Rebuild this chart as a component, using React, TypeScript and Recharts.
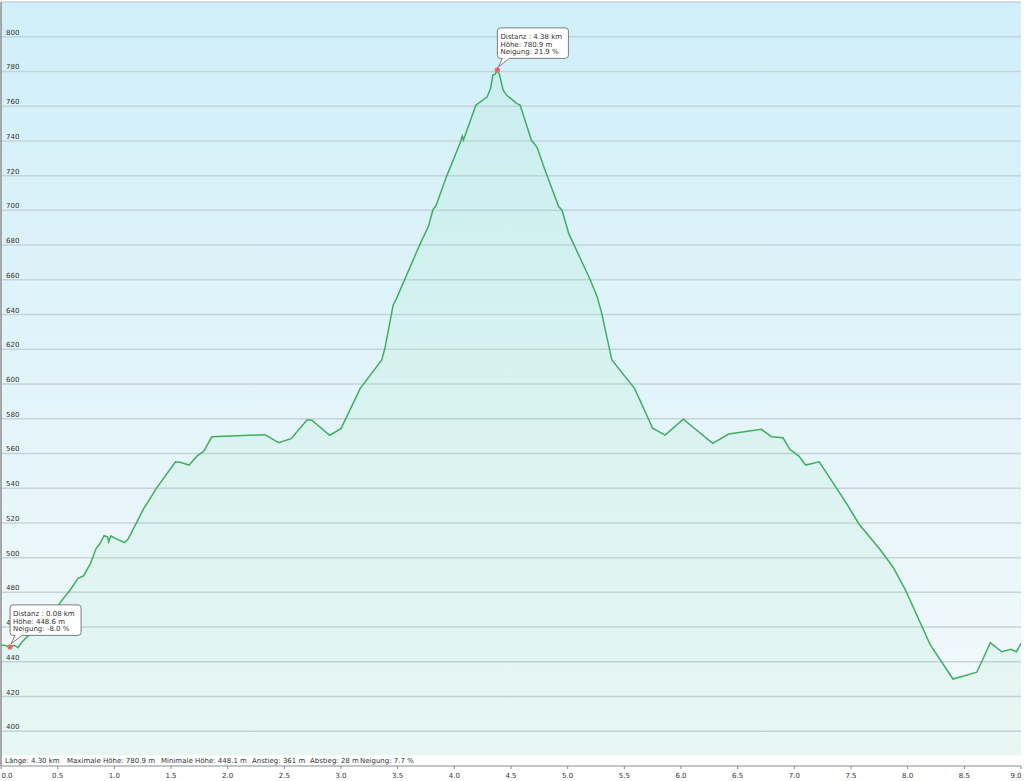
import React from 'react';
import { ComposedChart, Area, XAxis, YAxis, CartesianGrid, ReferenceDot, Customized } from 'recharts';

// distance along the track (km) and elevation (m)
const distanceKm = [
  0.0, 0.04, 0.08, 0.12, 0.15, 0.18, 0.23, 0.3, 0.39, 0.48, 0.52, 0.61, 0.68, 0.73, 0.79, 0.84,
  0.87, 0.91, 0.94, 0.95, 0.97, 1.01, 1.09, 1.12, 1.17, 1.26, 1.29, 1.37, 1.54, 1.58, 1.66, 1.73,
  1.79, 1.86, 2.33, 2.45, 2.56, 2.7, 2.74, 2.9, 3.0, 3.17, 3.36, 3.39, 3.46, 3.49, 3.7, 3.77,
  3.81, 3.84, 3.93, 4.05, 4.07, 4.08, 4.19, 4.29, 4.32, 4.34, 4.36, 4.38, 4.4, 4.43, 4.46, 4.55,
  4.58, 4.68, 4.73, 4.8, 4.92, 4.95, 5.01, 5.2, 5.26, 5.3, 5.39, 5.59, 5.75, 5.86, 6.02, 6.28,
  6.42, 6.71, 6.8, 6.9, 6.96, 7.04, 7.1, 7.22, 7.46, 7.57, 7.76, 7.87, 7.98, 8.2, 8.4, 8.61,
  8.73, 8.83, 8.91, 8.96, 9.0,
];
const elevationM = [
  449.7, 449.4, 448.6, 449.5, 448.1, 451.0, 454.5, 457.2, 461.2, 468.7, 474.0, 481.4, 488.1, 489.6, 496.7, 505.4,
  507.8, 512.6, 512.0, 509.2, 512.5, 511.1, 508.6, 510.6, 516.9, 528.4, 531.3, 539.9, 555.2, 554.9, 553.3, 558.5,
  561.4, 569.6, 570.8, 566.2, 568.5, 579.3, 579.3, 570.5, 574.3, 597.5, 613.8, 621.4, 645.4, 649.3, 681.0, 690.5,
  700.1, 703.0, 719.3, 738.6, 742.8, 740.5, 760.6, 765.4, 770.3, 777.9, 778.5, 780.9, 777.9, 769.3, 766.4, 761.6,
  760.6, 740.5, 736.3, 723.2, 702.2, 700.1, 686.6, 659.9, 650.3, 640.8, 613.8, 597.5, 574.5, 570.6, 579.7, 565.8,
  571.2, 573.9, 569.6, 569.0, 562.4, 558.5, 553.3, 555.2, 531.3, 519.4, 504.4, 494.6, 481.4, 449.7, 430.1, 434.0,
  451.0, 445.8, 447.2, 445.8, 450.7,
];

const xTicks = [0, 0.5, 1, 1.5, 2, 2.5, 3, 3.5, 4, 4.5, 5, 5.5, 6, 6.5, 7, 7.5, 8, 8.5, 9];
const yTicks = [400, 420, 440, 460, 480, 500, 520, 540, 560, 580, 600, 620, 640, 660, 680, 700, 720, 740, 760, 780, 800];

const statLabels = [
  'Länge: 4.30 km',
  'Maximale Höhe: 780.9 m',
  'Minimale Höhe: 448.1 m',
  'Anstieg: 361 m',
  'Abstieg: 28 m',
  'Neigung: 7.7 %',
];

// the two points picked on the profile
const pickKm = [0.08, 4.38];
const pickHeight = [448.6, 780.9];
const pickGrade = ['-8.0', '21.9'];

const data = distanceKm.map((km, i) => ({ km, elev: elevationM[i] }));

const FONT = '"DejaVu Sans", Verdana, sans-serif';
const TEXT = '#333333';

const XTick = ({ x, y, payload }: any) => {
  // edge labels are pushed back inside the chart
  const tx = Math.min(Math.max(x, 7), 1016);
  return (
    <text x={tx} y={y + 6.5} textAnchor="middle" fontSize={7} fontFamily={FONT} fill={TEXT}>
      {payload.value.toFixed(1)}
    </text>
  );
};

const YTick = ({ x, y, payload }: any) => (
  <text x={x + 1} y={y - 2} textAnchor="start" fontSize={7} fontFamily={FONT} fill={TEXT}>
    {payload.value}
  </text>
);

const Pick = ({ cx, cy, lines }: any) => {
  if (cx == null || cy == null) return null;
  const w = 71;
  const h = 30.5;
  const l = cx;
  const t = cy - 42;
  const b = t + h;
  const r = l + w;
  const d = `M${l + 3},${t} H${r - 3} Q${r},${t} ${r},${t + 3} V${b - 3} Q${r},${b} ${r - 3},${b}
    H${l + 12} L${cx + 1},${cy - 3} L${l + 5},${b} H${l + 3} Q${l},${b} ${l},${b - 3} V${t + 3} Q${l},${t} ${l + 3},${t} Z`;
  return (
    <g>
      <path d={d} fill="#ffffff" stroke="#7d7d7d" strokeWidth={1} />
      {lines.map((s: string, i: number) => (
        <text key={i} x={l + 3} y={t + 11 + i * 7.7} fontSize={7} fontFamily={FONT} fill="#333">
          {s}
        </text>
      ))}
      <circle cx={cx} cy={cy} r={2.6} fill="#f19a9a" />
      <path
        d={`M${cx - 3},${cy} H${cx + 3} M${cx},${cy - 3} V${cy + 3} M${cx - 2},${cy - 2} L${cx + 2},${cy + 2} M${cx - 2},${cy + 2} L${cx + 2},${cy - 2}`}
        stroke="#d9534f"
        strokeWidth={0.9}
      />
    </g>
  );
};

const StatsLine = () => {
  const xs = [5, 67, 161, 252, 310, 360];
  return (
    <g>
      {statLabels.map((s, i) => (
        <text key={s} x={xs[i]} y={762.5} fontSize={7} fontFamily={FONT} fill={TEXT}>
          {s}
        </text>
      ))}
    </g>
  );
};

export default function App() {
  return (
    <div style={{ position: 'absolute', left: 0, top: 0, width: 1024, height: 781, background: '#ffffff' }}>
      <ComposedChart width={1024} height={781} data={data} margin={{ top: 2, right: 3, bottom: 0, left: 1 }}>
        <defs>
          <linearGradient id="bgGrad" x1="0" y1="0" x2="0" y2="1">
            <stop offset="0%" stopColor="#d0eff9" />
            <stop offset="60%" stopColor="#e6f5fa" />
            <stop offset="98.5%" stopColor="#f4fafc" />
            <stop offset="98.5%" stopColor="#ffffff" />
            <stop offset="100%" stopColor="#ffffff" />
          </linearGradient>
        </defs>
        <CartesianGrid vertical={false} stroke="#c5d4d9" strokeWidth={1.5} fill="url(#bgGrad)" fillOpacity={1} />
        <XAxis
          type="number"
          dataKey="km"
          domain={[0, 9]}
          ticks={xTicks}
          allowDataOverflow
          height={15}
          tickSize={3}
          tickLine={{ stroke: '#8a8a8a' }}
          axisLine={{ stroke: '#b0b0b0' }}
          tick={<XTick />}
          interval={0}
        />
        <YAxis
          type="number"
          domain={[380, 820]}
          ticks={yTicks}
          allowDataOverflow
          mirror
          tickLine={false}
          tickSize={2}
          tickMargin={2}
          axisLine={{ stroke: '#8c8c8c', strokeWidth: 1.5 }}
          tick={<YTick />}
          interval={0}
        />
        <Area
          type="linear"
          dataKey="elev"
          baseValue={386}
          stroke="#3fae5f"
          strokeWidth={1.5}
          fill="#7fe3a8"
          fillOpacity={0.1}
          dot={false}
          activeDot={false}
          isAnimationActive={false}
        />
        <Customized component={StatsLine} />
        {pickKm.map((km, i) => (
          <ReferenceDot
            key={km}
            x={km}
            y={pickHeight[i]}
            ifOverflow="visible"
            zIndex={2000}
            shape={(p: any) => (
              <Pick
                cx={p.cx}
                cy={p.cy}
                lines={[
                  `Distanz : ${km.toFixed(2)} km`,
                  `Höhe: ${pickHeight[i].toFixed(1)} m`,
                  `Neigung: ${pickGrade[i]} %`,
                ]}
              />
            )}
          />
        ))}
      </ComposedChart>
    </div>
  );
}
